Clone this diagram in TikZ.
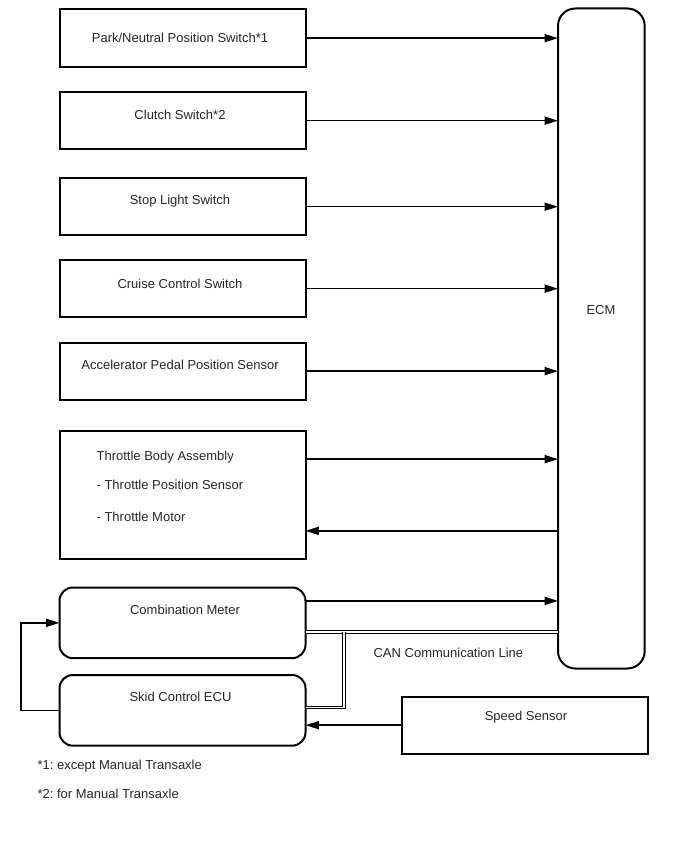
\documentclass[tikz,border=0pt]{standalone}
\usepackage{fontspec}
\setmainfont{Liberation Sans}
\usepackage{tikz}
\usetikzlibrary{arrows.meta,calc}
\frenchspacing

\tikzset{
  unit/.style={draw, line width=1.5pt, anchor=north west, minimum width=184.5pt, minimum height=43pt, inner sep=0pt, outer sep=0pt},
  ecu/.style={unit, rounded corners=10pt, minimum height=53pt},
  lbl/.style={text=black!85, inner sep=1pt},
  sig/.style={line width=1.1pt, -{Triangle[length=10pt,width=6pt]}},
  can/.style={draw=black, line width=0.7pt, double=white, double distance=1.3pt},
}

\begin{document}
\begin{tikzpicture}[x=0.75pt, y=-0.75pt, font=\fontsize{9.75}{12}\selectfont]
\useasboundingbox (0,0) rectangle (688,852);

% ECM
\node[unit, minimum width=65pt, minimum height=495pt, rounded corners=13pt] (ecm) at (558,8.5) {};
\node[lbl] (tecm) at (601,310) {ECM};

% switches and sensors
\foreach \n/\y/\dy/\t in {1/9.5/28/{Park/Neutral Position Switch*1},
                          2/92/23/{Clutch Switch*2},
                          3/178/23.5/{Stop Light Switch},
                          4/260/24/{Cruise Control Switch},
                          5/342.5/22/{Accelerator Pedal Position Sensor}}{
    \node[unit] (b\n) at (59.5,\y) {};
    \node[lbl] (t\n) at (180,\y+\dy) {\t};
    \draw[sig] (b\n.east) -- (b\n.east -| ecm.west);
}

% throttle body
\node[unit, minimum height=96pt] (thr) at (59.5,431) {};
\node[lbl, anchor=west] (thra) at (95,457) {Throttle Body Assembly};
\node[lbl, anchor=west] (thrb) at (95,485) {- Throttle Position Sensor};
\node[lbl, anchor=west] (thrc) at (95,517) {- Throttle Motor};
\coordinate (thr1) at ($(thr.north east)!.22!(thr.south east)$);
\coordinate (thr2) at ($(thr.north east)!.78!(thr.south east)$);
\draw[sig] (thr1) -- (thr1 -| ecm.west);
\draw[sig] (thr2 -| ecm.west) -- (thr2);

% meter and skid control
\node[ecu] (cm) at (59.5,587.5) {};
\node[lbl] (tcm) at (185,610) {Combination Meter};
\node[ecu] (skid) at (59.5,675) {};
\node[lbl] (tskid) at (180.5,697) {Skid Control ECU};
\coordinate (cm1) at ($(cm.north east)!.19!(cm.south east)$);
\draw[sig] (cm1) -- (cm1 -| ecm.west);

% CAN
\coordinate (can1) at ($(cm.north east)!.63!(cm.south east)$);
\coordinate (canj) at ($(can1)+(38.5,0)$);
\coordinate (can2) at ($(skid.north east)!.46!(skid.south east)$);
\draw[can] (can1) -- (can1 -| ecm.west);
\draw[can] ([yshift=-0.3pt]canj) |- (can2);
\node[lbl, anchor=west] (tcan) at (372,653) {CAN Communication Line};

% speed sensor
\node[unit] (spd) at (402,696.5) {};
\node[lbl] (tspd) at (526,717) {Speed Sensor};
\draw[sig] (spd.west) -- (spd.west -| skid.east);

% loop back
\coordinate (lp) at (21,0);
\draw[sig] (skid.west) -- (skid.west -| lp) |- (cm.west);

% notes
\node[lbl, anchor=west] (n1) at (36,766) {*1: except Manual Transaxle};
\node[lbl, anchor=west] (n2) at (36,794) {*2: for Manual Transaxle};

\end{tikzpicture}
\end{document}
